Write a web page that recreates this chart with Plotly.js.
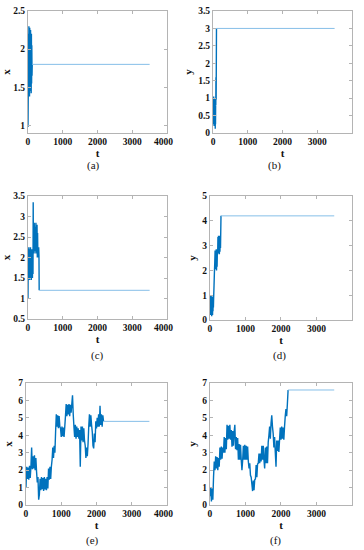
<!DOCTYPE html>
<html><head><meta charset="utf-8">
<script src="https://cdn.plot.ly/plotly-3.0.1.min.js"></script>
<style>html,body{margin:0;padding:0;background:#fff}#chart{width:364px;height:550px}</style>
</head><body><div id="chart"></div>
<script>
// ---- data ----
const tA = [0, 8, 14, 20, 26, 32, 38, 44, 50, 56, 62, 68, 74, 80, 86, 92, 98, 104, 110, 116, 122, 3500];
const xA = [0.98, 1.45, 2.2, 1.42, 2.3, 1.5, 2.15, 1.38, 2.28, 1.55, 2.2, 1.45, 2.25, 1.5, 2.1, 1.42, 2.2, 1.55, 2.05, 1.65, 1.8, 1.8];

const tB = [0, 4, 8, 12, 16, 20, 24, 28, 32, 36, 40, 44, 48, 52, 56, 60, 64, 68, 72, 76, 80, 85, 90, 100, 3500];
const yB = [0.5, 1.0, 0.3, 0.95, 0.25, 1.05, 0.3, 0.9, 0.2, 0.95, 0.35, 0.85, 0.25, 1.0, 0.3, 0.9, 0.12, 0.8, 0.25, 0.9, 0.8, 1.6, 0.95, 3.0, 3.0];

const tC = [0, 8, 16, 24, 32, 40, 48, 56, 64, 72, 80, 88, 96, 104, 112, 120, 128, 136, 144, 150, 156, 164, 172, 180, 188, 196, 204, 212, 220, 228, 236, 244, 252, 260, 268, 276, 284, 292, 300, 308, 316, 322, 3500];
const xC = [1.0, 2.2, 1.45, 2.25, 1.5, 2.1, 1.45, 2.2, 1.55, 2.25, 1.5, 2.15, 1.45, 2.2, 1.55, 2.1, 1.5, 2.2, 1.6, 3.35, 2.1, 2.8, 2.15, 2.85, 2.2, 2.7, 2.1, 2.75, 2.2, 2.85, 2.15, 2.7, 2.1, 2.8, 2.0, 2.6, 2.05, 2.25, 2.0, 2.25, 2.05, 1.2, 1.2];

const tD = [0, 6, 12, 18, 24, 30, 36, 42, 48, 54, 60, 66, 72, 78, 84, 90, 96, 104, 114, 124, 134, 144, 152, 160, 168, 176, 184, 192, 200, 208, 216, 224, 232, 240, 248, 256, 264, 272, 280, 288, 296, 310, 3500];
const yD = [0.5, 1.0, 0.2, 0.95, 0.3, 1.0, 0.25, 0.9, 0.15, 0.95, 0.3, 0.85, 0.2, 0.95, 0.35, 0.8, 0.5, 0.95, 1.4, 1.9, 2.3, 2.8, 2.05, 2.75, 2.1, 2.85, 2.0, 2.7, 2.15, 2.8, 2.65, 3.35, 2.7, 3.4, 2.75, 3.3, 2.65, 3.4, 2.75, 3.3, 2.9, 4.2, 4.2];

const tE = [0, 20, 40, 60, 80, 100, 120, 140, 160, 180, 200, 220, 240, 260, 280, 300, 320, 340, 360, 380, 400, 420, 440, 460, 480, 500, 520, 540, 560, 580, 600, 620, 640, 660, 680, 700, 720, 740, 760, 780, 800, 820, 840, 860, 880, 900, 920, 940, 960, 980, 1000, 1020, 1040, 1060, 1080, 1100, 1120, 1140, 1160, 1180, 1200, 1220, 1240, 1260, 1280, 1300, 1320, 1340, 1360, 1380, 1400, 1420, 1440, 1460, 1480, 1500, 1520, 1540, 1560, 1580, 1600, 1620, 1640, 1660, 1680, 1700, 1720, 1740, 1760, 1780, 1800, 1820, 1840, 1860, 1880, 1900, 1920, 1940, 1960, 1980, 2000, 2020, 2040, 2060, 2080, 2100, 2120, 2140, 2160, 2180, 2200, 3500];
const xE = [1.0, 2.2, 1.5, 2.15, 1.45, 2.25, 1.55, 2.2, 3.3, 2.05, 2.8, 2.1, 2.85, 2.0, 2.7, 1.9, 1.3, 1.6, 0.3, 0.6, 1.5, 0.85, 1.6, 0.9, 1.55, 0.8, 1.6, 0.9, 1.5, 0.85, 1.6, 0.95, 2.1, 1.45, 2.2, 1.5, 2.2, 2.6, 3.3, 2.7, 3.4, 3.0, 4.2, 5.2, 4.5, 5.15, 4.4, 5.1, 4.5, 4.4, 3.9, 4.5, 3.95, 4.45, 3.9, 4.5, 5.1, 5.8, 5.1, 5.75, 5.2, 5.8, 5.1, 5.75, 5.3, 5.8, 6.3, 5.2, 4.5, 3.9, 4.6, 3.8, 4.5, 3.9, 4.4, 3.8, 4.3, 2.2, 4.5, 3.7, 4.5, 3.6, 4.4, 3.7, 3.4, 2.7, 3.3, 2.8, 3.5, 4.5, 5.2, 4.5, 5.15, 4.6, 4.2, 3.4, 3.25, 4.1, 3.6, 4.8, 4.4, 5.0, 4.5, 5.2, 4.5, 5.7, 4.6, 5.2, 4.5, 5.15, 4.8, 4.8];

const tF = [0, 20, 40, 60, 80, 100, 120, 140, 160, 180, 200, 220, 240, 260, 280, 300, 320, 340, 360, 380, 400, 420, 440, 460, 480, 500, 520, 540, 560, 580, 600, 620, 640, 660, 680, 700, 720, 740, 760, 780, 800, 820, 840, 860, 880, 900, 920, 940, 960, 980, 1000, 1020, 1040, 1060, 1080, 1100, 1120, 1140, 1160, 1180, 1200, 1220, 1240, 1260, 1280, 1300, 1320, 1340, 1360, 1380, 1400, 1420, 1440, 1460, 1480, 1500, 1520, 1540, 1560, 1580, 1600, 1620, 1640, 1660, 1680, 1700, 1720, 1740, 1760, 1780, 1800, 1820, 1840, 1860, 1880, 1900, 1920, 1940, 1960, 1980, 2000, 2020, 2040, 2060, 2080, 2100, 2120, 2140, 2160, 2180, 2200, 3500];
const yF = [0.5, 1.0, 0.2, 0.95, 0.3, 1.6, 2.5, 2.0, 2.8, 2.1, 2.75, 2.0, 2.7, 2.2, 3.3, 2.6, 3.35, 2.65, 3.3, 3.0, 3.9, 3.0, 3.85, 3.2, 4.6, 3.75, 4.55, 3.8, 4.6, 3.75, 4.3, 3.35, 4.25, 3.4, 4.2, 4.6, 3.2, 3.9, 3.15, 3.85, 2.6, 3.5, 2.6, 3.45, 2.6, 2.0, 2.55, 3.4, 2.6, 3.45, 2.6, 3.4, 2.6, 3.35, 2.5, 2.1, 2.4, 1.7, 1.6, 1.2, 0.8, 1.4, 0.85, 1.45, 1.5, 2.3, 1.6, 2.35, 2.4, 2.95, 2.4, 2.95, 2.5, 3.4, 2.6, 3.4, 2.6, 2.1, 3.3, 2.4, 3.35, 2.4, 3.6, 4.0, 4.5, 3.8, 4.7, 5.15, 4.5, 4.1, 3.3, 3.9, 3.0, 2.2, 3.7, 3.1, 3.7, 3.05, 3.75, 4.45, 3.75, 4.5, 3.8, 4.45, 3.75, 4.5, 5.1, 5.5, 5.1, 5.8, 6.6, 6.6];

const panelLabels = ['(a)', '(b)', '(c)', '(d)', '(e)', '(f)'];
const xTitle = 't';
const yTitles = ['x', 'y', 'x', 'y', 'x', 'y'];
const xTicks = [0, 1000, 2000, 3000, 4000];
const xTickLabels = ['0', '1000', '2000', '3000', '4000'];

// ---- chart ----
const series = [[tA, xA], [tB, yB], [tC, xC], [tD, yD], [tE, xE], [tF, yF]];
const xDomains = [[0.0769, 0.4588], [0.5852, 0.9670], [0.0769, 0.4588], [0.5769, 0.9670], [0.0714, 0.4588], [0.5769, 0.9670]];
const yDomains = [[0.7582, 0.98], [0.7582, 0.98], [0.42, 0.6436], [0.4182, 0.6436], [0.0818, 0.3036], [0.0818, 0.3036]];
const yRanges = [[0.9, 2.5], [0, 3.5], [0.5, 3.5], [0, 5], [0, 7], [0, 7]];
const yDticks = [0.5, 0.5, 0.5, 1, 1, 1];
const capY = [165.5, 165.5, 355, 355, 540, 540];
const capX = [93, 274, 97, 279, 92, 275];

const FONT = '"Liberation Serif", "Times New Roman", serif';
const LINE = '#b4b4b4';
const TXT = '#111111';
// the last x label sits flush against the right end of the axis in the reference
const tickText = xTickLabels.map((s, j) => j === xTickLabels.length - 1 ? s + '\u00a0'.repeat(3) : s);
const data = [];
const layout = {
  width: 364, height: 550,
  margin: {l: 0, r: 0, t: 0, b: 0},
  paper_bgcolor: '#fff', plot_bgcolor: '#fff',
  showlegend: false,
  font: {family: FONT, size: 9, color: TXT},
  annotations: []
};
series.forEach((s, i) => {
  const n = i === 0 ? '' : String(i + 1);
  const k = s[0].length;
  // transient (noisy) part
  data.push({
    type: 'scatter', mode: 'lines', x: s[0].slice(0, k - 1), y: s[1].slice(0, k - 1),
    xaxis: 'x' + n, yaxis: 'y' + n,
    line: {color: '#0072BD', width: 1.4, simplify: false},
    hoverinfo: 'skip'
  });
  // settled part
  data.push({
    type: 'scatter', mode: 'lines', x: s[0].slice(k - 2), y: s[1].slice(k - 2),
    xaxis: 'x' + n, yaxis: 'y' + n,
    line: {color: '#86bfe8', width: 1, simplify: false},
    hoverinfo: 'skip'
  });
  const common = {
    showline: true, linecolor: LINE, linewidth: 1, mirror: 'ticks',
    ticks: 'inside', ticklen: 3, tickcolor: LINE, tickwidth: 1,
    showgrid: false, zeroline: false,
    tickfont: {family: FONT, size: 9.5, color: TXT, weight: 'bold'}
  };
  layout['xaxis' + n] = Object.assign({}, common, {
    domain: xDomains[i], anchor: 'y' + n, range: [0, 4000],
    tickmode: 'array', tickvals: xTicks, ticktext: tickText,
    title: {text: xTitle, standoff: 1, font: {family: FONT, size: 11, weight: 'bold', color: TXT}}
  });
  layout['yaxis' + n] = Object.assign({}, common, {
    domain: yDomains[i], anchor: 'x' + n, range: yRanges[i],
    dtick: yDticks[i], tick0: 0,
    title: {text: yTitles[i], standoff: 3, font: {family: FONT, size: 11, weight: 'bold', color: TXT}}
  });
  layout.annotations.push({
    xref: 'paper', yref: 'paper', x: capX[i] / 364, y: 1 - capY[i] / 550,
    xanchor: 'center', yanchor: 'middle', showarrow: false,
    text: panelLabels[i], font: {family: FONT, size: 11, color: TXT}
  });
});
Plotly.newPlot('chart', data, layout, {staticPlot: true, displayModeBar: false});
</script>
</body></html>
